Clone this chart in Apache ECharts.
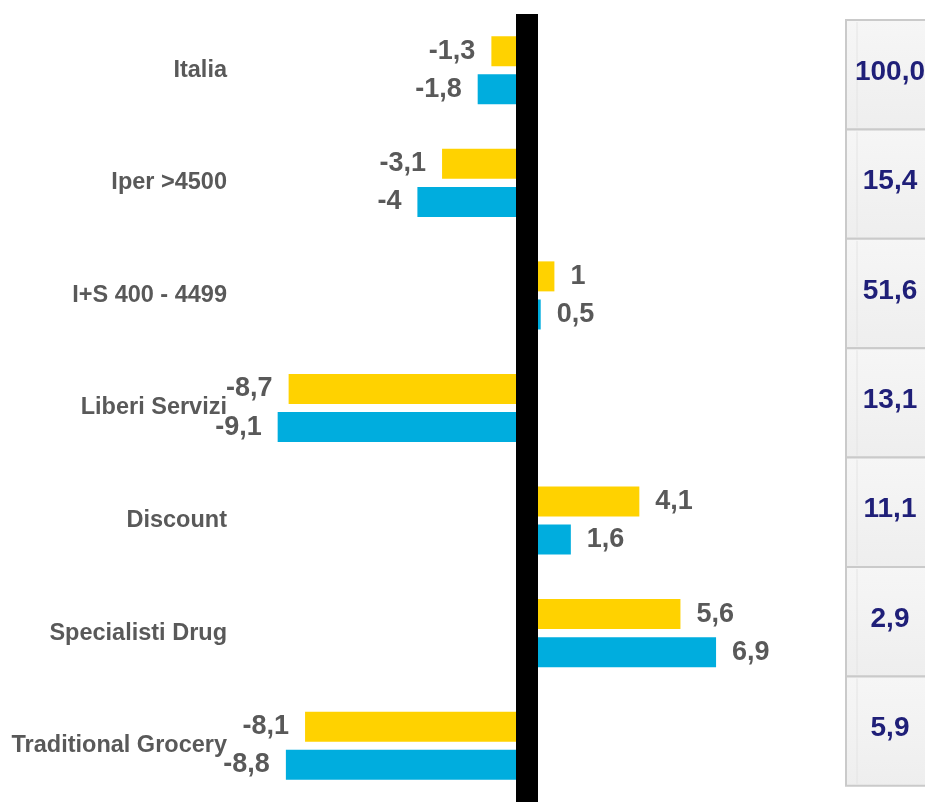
<!DOCTYPE html>
<html>
<head>
<meta charset="utf-8">
<script src="https://cdn.jsdelivr.net/npm/echarts@6/dist/echarts.min.js"></script>
<style>
  html, body { margin: 0; padding: 0; background: #fff; }
  #chart { width: 925px; height: 802px; }
</style>
</head>
<body>
<div id="chart"></div>
<script>
var categories = ['Italia', 'Iper >4500', 'I+S 400 - 4499', 'Liberi Servizi', 'Discount', 'Specialisti Drug', 'Traditional Grocery']
var yellowValues = [-1.3, -3.1, 1, -8.7, 4.1, 5.6, -8.1]
var blueValues = [-1.8, -4, 0.5, -9.1, 1.6, 6.9, -8.8]
var shareLabels = ['100,0', '15,4', '51,6', '13,1', '11,1', '2,9', '5,9']

var labelColor = '#595959'

function fmt(v) {
  return String(v).replace('.', ',')
}

function barData(values) {
  return values.map(function(v) {
    return { value: v, label: { position: v < 0 ? 'left' : 'right' } }
  })
}

// table on the right
var tableTop = 20
var rowH = 109.4
var tableEls = []
shareLabels.forEach(function(s, i) {
  tableEls.push({
    type: 'rect',
    shape: { x: 846, y: tableTop + i * rowH, width: 100, height: rowH },
    style: {
      fill: new echarts.graphic.LinearGradient(0, 0, 0, 1, [
        { offset: 0, color: '#f6f6f6' },
        { offset: 1, color: '#eeeeee' }
      ]),
      stroke: '#cacaca',
      lineWidth: 2
    },
    z: 1
  })
  tableEls.push({
    type: 'line',
    shape: { x1: 857, y1: tableTop + i * rowH + 2, x2: 857, y2: tableTop + (i + 1) * rowH - 2 },
    style: { stroke: '#e4e4e4', lineWidth: 1 },
    z: 2
  })
  tableEls.push({
    type: 'text',
    x: 890,
    y: tableTop + i * rowH + 52,
    style: {
      text: s,
      fill: '#1f1f78',
      font: 'bold 28px "Liberation Sans", Arial, sans-serif',
      textAlign: 'center',
      textVerticalAlign: 'middle'
    },
    z: 3
  })
})

var option = {
  animation: false,
  grid: {
    left: 253,
    right: 124,
    top: 14,
    bottom: -6
  },
  xAxis: {
    type: 'value',
    min: -10,
    max: 10,
    show: false
  },
  yAxis: {
    type: 'category',
    inverse: true,
    data: categories,
    axisLine: { show: false },
    axisTick: { show: false },
    splitLine: { show: false },
    axisLabel: {
      margin: 26,
      color: labelColor,
      fontSize: 23.5,
      fontWeight: 'bold',
      fontFamily: '"Liberation Sans", Arial, sans-serif'
    }
  },
  graphic: { elements: tableEls },
  series: [
    {
      name: 'yellow',
      type: 'bar',
      barWidth: 30,
      barGap: '27%',
      itemStyle: { color: '#FFD200' },
      label: {
        show: true,
        distance: 16,
        color: labelColor,
        fontSize: 27,
        fontWeight: 'bold',
        fontFamily: '"Liberation Sans", Arial, sans-serif',
        formatter: function(p) { return fmt(p.value) }
      },
      data: barData(yellowValues)
    },
    {
      name: 'blue',
      type: 'bar',
      barWidth: 30,
      barGap: '27%',
      itemStyle: { color: '#00ADDE' },
      label: {
        show: true,
        distance: 16,
        color: labelColor,
        fontSize: 27,
        fontWeight: 'bold',
        fontFamily: '"Liberation Sans", Arial, sans-serif',
        formatter: function(p) { return fmt(p.value) }
      },
      data: barData(blueValues)
    },
    {
      // thick zero line
      type: 'line',
      z: 10,
      data: [],
      markLine: {
        silent: true,
        symbol: 'none',
        label: { show: false },
        lineStyle: { color: '#000', width: 22, type: 'solid' },
        data: [{ xAxis: 0 }]
      }
    }
  ]
}

var chart = echarts.init(document.getElementById('chart'))
chart.setOption(option)
</script>
</body>
</html>
